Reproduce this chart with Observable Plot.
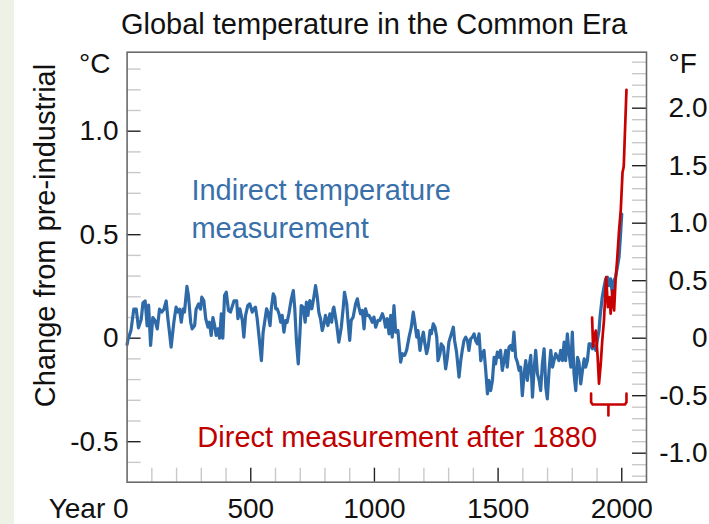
<!DOCTYPE html>
<html><head><meta charset="utf-8">
<script src="https://cdn.jsdelivr.net/npm/d3@7"></script>
<script src="https://cdn.jsdelivr.net/npm/@observablehq/plot@0.6"></script>
<style>
html,body{margin:0;padding:0;background:#fff;}
body{width:709px;height:524px;overflow:hidden;position:relative;font-family:"Liberation Sans",Arial,sans-serif;}
#strip{position:absolute;left:0;top:0;width:14px;height:524px;background:#eef2e6;z-index:0;}
#title{position:relative;z-index:1;height:48px;line-height:48px;font-size:29px;text-align:center;padding-left:39px;width:670px;color:#111;white-space:nowrap;}
#chart{position:relative;z-index:1;}
</style></head><body>
<div id="strip"></div>
<div id="title">Global temperature in the Common Era</div>
<div id="chart"></div>
<script>
// ---- data ----
const indirectYears = [0,3,16,27,37,46,57,64,73,81,87,95,104,113,122,131,140,149,158,165,172,178,189,198,205,212,219,226,232,242,248,257,263,273,279,289,297,302,310,318,327,333,340,347,354,360,367,374,381,387,394,401,410,418,432,443,448,456,466,472,479,488,496,506,513,519,526,533,543,550,556,564,569,578,583,591,597,601,607,614,621,627,634,641,647,654,664,672,678,685,692,699,704,712,720,725,731,739,747,755,762,769,775,782,789,796,802,812,820,827,833,836,847,856,866,874,879,888,893,900,906,914,924,931,937,944,951,958,964,971,978,985,991,998,1005,1014,1022,1032,1039,1045,1052,1059,1066,1072,1079,1086,1095,1106,1113,1122,1130,1140,1149,1157,1164,1171,1176,1184,1190,1198,1203,1211,1217,1225,1230,1238,1245,1252,1257,1265,1270,1279,1288,1295,1301,1311,1319,1324,1332,1342,1349,1355,1362,1369,1376,1382,1389,1396,1403,1409,1416,1423,1430,1436,1443,1450,1457,1463,1470,1477,1484,1490,1497,1504,1510,1517,1524,1531,1537,1544,1551,1558,1564,1571,1578,1585,1591,1598,1605,1612,1618,1625,1632,1639,1645,1652,1659,1666,1672,1679,1686,1693,1699,1706,1713,1720,1726,1733,1740,1746,1753,1760,1767,1773,1780,1787,1794,1800,1807,1814,1821,1827,1834,1841,1848,1854,1861,1868,1874,1881,1888,1895,1901,1908,1912,1921,1928,1935,1942,1948,1955,1962,1969,1975,1982,1989,1995,2000];
const indirectTemp = [-0.03,-0.01,0.04,0.14,0.14,0.05,0.09,0.17,0.18,0.06,0.16,-0.035,0.10,0.085,0.045,0.14,0.126,0.14,0.18,0.094,0.021,-0.043,0.077,0.15,0.126,0.14,0.077,0.14,0.126,0.25,0.206,0.077,0.045,0.061,0.14,0.166,0.14,0.198,0.182,0.094,0.053,0.077,0.013,0.10,0.061,0.013,0.045,0.0,0.118,0.0,0.206,0.222,0.134,0.126,0.18,0.18,0.094,0.142,0.085,0.005,0.11,0.158,0.166,0.126,0.142,0.15,0.094,0.013,-0.108,0.029,0.077,0.142,0.126,0.061,0.142,0.214,0.198,0.142,0.142,0.118,0.077,0.11,0.029,0.085,0.077,0.118,0.19,0.23,0.142,-0.019,-0.124,0.029,0.158,0.15,0.077,0.174,0.11,0.182,0.142,0.198,0.254,0.198,0.126,0.094,0.037,0.069,0.11,0.061,0.118,0.077,0.142,0.15,0.069,-0.019,0.053,0.15,0.222,0.166,0.086,-0.011,0.086,0.102,0.166,0.19,0.15,0.118,0.134,0.045,0.142,0.11,0.11,0.094,0.077,0.102,0.053,0.086,0.086,0.118,0.094,0.053,0.094,0.021,0.11,0.005,0.158,0.029,0.037,-0.116,-0.075,-0.083,-0.059,0.005,0.053,0.126,0.069,0.005,0.037,-0.059,-0.011,0.029,-0.019,-0.075,-0.043,0.037,0.021,0.069,0.053,0.005,-0.108,-0.075,-0.027,-0.043,-0.148,-0.092,-0.019,0.021,0.053,-0.011,-0.067,-0.188,-0.108,-0.059,-0.011,0.005,-0.011,-0.059,-0.003,0.005,0.021,-0.011,-0.027,0.021,-0.108,-0.075,-0.059,-0.156,-0.269,-0.204,-0.253,-0.204,-0.092,-0.124,-0.067,-0.092,-0.059,-0.156,-0.108,-0.059,-0.140,-0.043,-0.035,-0.059,0.029,-0.092,-0.116,-0.156,-0.140,-0.277,-0.172,-0.108,-0.204,-0.140,-0.083,-0.285,-0.156,-0.059,-0.172,-0.204,-0.253,-0.124,-0.051,-0.237,-0.293,-0.156,-0.059,-0.140,-0.108,-0.075,-0.092,-0.108,-0.059,-0.108,-0.019,-0.108,0.021,-0.075,-0.140,0.029,-0.172,-0.253,-0.092,-0.116,-0.221,-0.156,-0.100,-0.140,-0.108,-0.027,-0.027,-0.051,-0.035,-0.059,-0.011,0.037,0.101,0.198,0.246,0.287,0.295,0.254,0.287,0.214,0.279,0.295,0.343,0.392,0.50,0.60];

const directYears = [1880,1884,1888,1895,1902,1908,1915,1921,1928,1937,1944,1951,1955,1962,1969,1975,1982,1989,1996,2003,2008,2013,2019];
const directTemp  = [0.10,-0.04,0.0,0.037,-0.08,-0.22,-0.124,-0.013,0.085,0.295,0.15,0.198,0.118,0.23,0.134,0.279,0.392,0.52,0.62,0.80,0.83,1.0,1.20];

// bracket marking the span of direct measurement (1880 onward)
const bracketYears = [1876,1876,1882,1946,1946,1946,2013,2019,2019];
const bracketTemp  = [-0.268,-0.31,-0.32,-0.32,-0.373,-0.32,-0.32,-0.31,-0.268];

const xTickValues = [0,500,1000,1500,2000];
const xTickLabels = ["Year 0","500","1000","1500","2000"];
const cTickValues = [-0.5,0,0.5,1.0];
const cTickLabels = ["-0.5","0","0.5","1.0"];
const fTickValues = [-1.0,-0.5,0,0.5,1.0,1.5,2.0];
const fTickLabels = ["-1.0","-0.5","0","0.5","1.0","1.5","2.0"];

// ---- layout ----
const W = 709, H = 476;
const mL = 126.6, mR = 63, mT = 3.7, mB = 42.3;
const plotW = W - mL - mR, plotH = H - mT - mB;
const TICK = 14;

const xMinor = d3.range(100, 2100, 100).filter(v => v % 500 !== 0);
const cMinor = d3.range(-6, 14).map(v => v / 10).filter(v => Math.abs(v * 2 - Math.round(v * 2)) > 1e-9);
const fMinor = d3.range(-12, 25).map(v => v / 10).filter(v => Math.abs(v * 2 - Math.round(v * 2)) > 1e-9);

const BLUE = "#2f6aa8", RED = "#c80000", MINOR = "#c9c9c9", MAJOR = "#222";
const xLabelIdx = xTickValues.map((d, i) => i).filter(i => xTickValues[i] > 0);

const plot = Plot.plot({
  width: W, height: H,
  marginTop: mT, marginBottom: mB, marginLeft: mL, marginRight: mR,
  x: {domain: [0, 2100], axis: null},
  y: {domain: [-0.6957, 1.3816], axis: null},
  style: {fontFamily: "'Liberation Sans', Arial, sans-serif", fontSize: "28px", background: "transparent", color: "#111"},
  marks: [
    // left (°C) ticks, inward
    Plot.tickY(cMinor, {y: d => d, stroke: MINOR, strokeWidth: 1.4, insetRight: plotW - TICK}),
    Plot.tickY(cTickValues, {y: d => d, stroke: MAJOR, strokeWidth: 1.4, insetRight: plotW - TICK}),
    // right (°F) ticks, inward
    Plot.tickY(fMinor, {y: d => d / 1.8, stroke: MINOR, strokeWidth: 1.4, insetLeft: plotW - TICK}),
    Plot.tickY(fTickValues, {y: d => d / 1.8, stroke: MAJOR, strokeWidth: 1.4, insetLeft: plotW - TICK}),
    // bottom ticks, inward
    Plot.tickX(xMinor, {x: d => d, stroke: MINOR, strokeWidth: 1.4, insetTop: plotH - TICK}),
    Plot.tickX(xTickValues.filter(d => d > 0), {x: d => d, stroke: MAJOR, strokeWidth: 1.4, insetTop: plotH - TICK}),

    // series
    Plot.line(indirectYears, {x: d => d, y: (d, i) => indirectTemp[i], stroke: BLUE, strokeWidth: 3.2, strokeLinejoin: "round"}),
    Plot.line(directYears, {x: d => d, y: (d, i) => directTemp[i], stroke: RED, strokeWidth: 2.7, strokeLinejoin: "round"}),
    Plot.line(bracketYears, {x: d => d, y: (d, i) => bracketTemp[i], stroke: RED, strokeWidth: 2.6, strokeLinejoin: "round"}),

    Plot.frame({stroke: "#6b6b6b", strokeWidth: 1.6}),

    // tick labels
    Plot.text(cTickValues, {y: d => d, text: (d, i) => cTickLabels[i], frameAnchor: "left", dx: -8.6, textAnchor: "end", lineAnchor: "middle", fontSize: 28, fill: "#111"}),
    Plot.text(fTickValues, {y: d => d / 1.8, text: (d, i) => fTickLabels[i], frameAnchor: "right", dx: 61, textAnchor: "end", lineAnchor: "middle", fontSize: 28, fill: "#111"}),
    Plot.text(xLabelIdx, {x: i => xTickValues[i], text: i => xTickLabels[i], frameAnchor: "bottom", dy: 27.3, textAnchor: "middle", lineAnchor: "middle", fontSize: 28, fill: "#111"}),
    Plot.text([0], {x: i => xTickValues[i], text: i => xTickLabels[i], frameAnchor: "bottom", dy: 27.3, dx: 1.5, textAnchor: "end", lineAnchor: "middle", fontSize: 28, fill: "#111"}),

    // unit labels
    Plot.text(["°C"], {text: d => d, frameAnchor: "top-left", dx: -16.6, dy: 11.6, textAnchor: "end", lineAnchor: "middle", fontSize: 28, fill: "#111"}),
    Plot.text(["°F"], {text: d => d, frameAnchor: "top-right", dx: 22, dy: 11.6, textAnchor: "start", lineAnchor: "middle", fontSize: 28, fill: "#111"}),

    // y-axis title
    Plot.text(["Change from pre-industrial"], {text: d => d, frameAnchor: "left", dx: -81.6, dy: -31.7, rotate: -90, textAnchor: "middle", lineAnchor: "middle", fontSize: 29, fill: "#111"}),

    // annotations
    Plot.text(["Indirect temperature\nmeasurement"], {x: () => 260, y: () => 0.80, text: d => d, textAnchor: "start", lineAnchor: "top", lineHeight: 1.31, fontSize: 29, fill: "#3a70aa"}),
    Plot.text(["Direct measurement after 1880"], {x: () => 284, y: () => -0.425, text: d => d, textAnchor: "start", lineAnchor: "top", fontSize: 29, fill: "#c00000"})
  ]
});
document.getElementById("chart").appendChild(plot);
</script>
</body></html>
